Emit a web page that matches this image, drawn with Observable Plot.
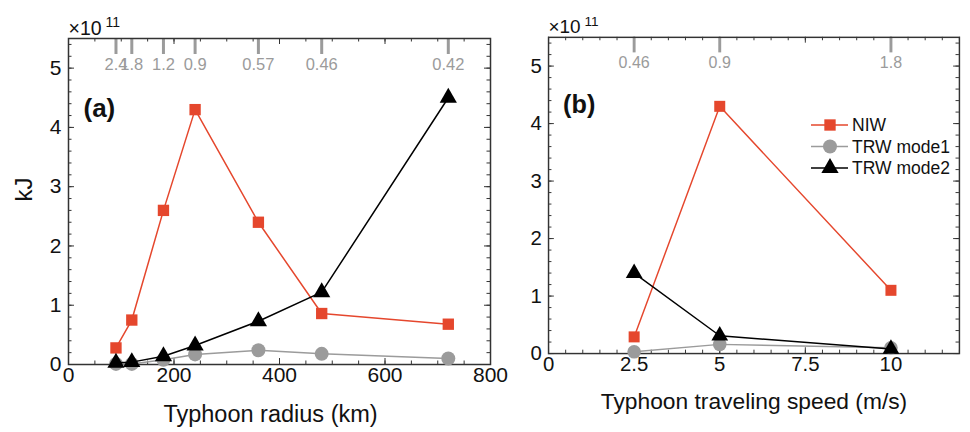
<!DOCTYPE html>
<html>
<head>
<meta charset="utf-8">
<script src="https://cdn.jsdelivr.net/npm/d3@7"></script>
<script src="https://cdn.jsdelivr.net/npm/@observablehq/plot@0.6"></script>
<style>
  html, body { margin: 0; padding: 0; background: #fff; }
  #wrap { position: relative; width: 970px; height: 432px; overflow: hidden; background: #fff;
          font-family: "Liberation Sans", Arial, Helvetica, sans-serif; }
  #pa, #pb, #legend { position: absolute; top: 0; }
  #pa { left: 0; }
  #pb { left: 485px; }
  #legend { left: 800px; top: 110px; }
</style>
</head>
<body>
<div id="wrap">
  <div id="pa"></div>
  <div id="pb"></div>
  <div id="legend"></div>
</div>
<script>
// ---------- data ----------
const radius = [90, 120, 180, 240, 360, 480, 720];
const niwA  = [0.28, 0.75, 2.6, 4.3, 2.4, 0.86, 0.68];
const trw1A = [0.01, 0.01, 0.08, 0.17, 0.24, 0.18, 0.10];
const trw2A = [0.03, 0.04, 0.14, 0.32, 0.73, 1.22, 4.5];

const speed = [2.5, 5, 10];
const niwB  = [0.29, 4.3, 1.1];
const trw1B = [0.03, 0.16, 0.10];
const trw2B = [1.4, 0.31, 0.08];

const topLabelsA = ["2.4", "1.8", "1.2", "0.9", "0.57", "0.46", "0.42"];
const topLabelsB = ["0.46", "0.9", "1.8"];

const seriesNames = ["NIW", "TRW mode1", "TRW mode2"];
const seriesColors = ["#e5472d", "#9b9b9b", "#000000"];
const seriesSymbols = ["square", "circle", "triangle"];
const seriesR = [6.4, 7, 6.4];

const yTicks = [0, 1, 2, 3, 4, 5];
const xTicksA = [0, 200, 400, 600, 800];
const xTicksB = [0, 2.5, 5, 7.5, 10];

const font = '"Liberation Sans", Arial, Helvetica, sans-serif';

function rows(xs, ys) { return xs.map((x, i) => ({x, y: ys[i]})); }

function panel({xs, series, xDomain, xTicks, minorStep, majorStep, topLabels, title, tag,
                marginLeft, marginRight, titleDx, showYLabel}) {
  const width = 500, height = 432, marginTop = 38, marginBottom = 68;
  const fw = width - marginLeft - marginRight;
  const fh = height - marginTop - marginBottom;
  const minorX = d3.range(xDomain[0], xDomain[1] + 1e-9, minorStep);
  const majorX = d3.range(xDomain[0], xDomain[1] + 1e-9, majorStep);
  const minorY = d3.range(0, 5.5 + 1e-9, 0.2);
  const topData = xs.map((x, i) => ({x, label: topLabels[i]}));
  const marks = [
    // inward ticks on all four sides
    Plot.tickX(minorX, {x: d => d, insetTop: fh - 3.5, stroke: "#333"}),
    Plot.tickX(majorX, {x: d => d, insetTop: fh - 6, stroke: "#333"}),
    Plot.tickX(minorX, {x: d => d, insetBottom: fh - 3.5, stroke: "#333"}),
    Plot.tickX(majorX, {x: d => d, insetBottom: fh - 6, stroke: "#333"}),
    Plot.tickY(minorY, {y: d => d, insetRight: fw - 3.5, stroke: "#333"}),
    Plot.tickY(yTicks, {y: d => d, insetRight: fw - 6, stroke: "#333"}),
    Plot.tickY(minorY, {y: d => d, insetLeft: fw - 3.5, stroke: "#333"}),
    Plot.tickY(yTicks, {y: d => d, insetLeft: fw - 6, stroke: "#333"}),
    // gray secondary top ticks and labels
    Plot.tickX(topData, {x: "x", insetBottom: fh - 16, stroke: "#9b9b9b", strokeWidth: 3}),
    Plot.text(topData, {x: "x", text: "label", frameAnchor: "top", dy: 26, fill: "#9b9b9b",
                        fontSize: 16.5, lineAnchor: "middle"}),
    Plot.axisX(xTicks, {anchor: "bottom", tickSize: 0, tickPadding: 3, fontSize: 21, label: null,
                        tickFormat: d => String(d), fill: "#111"}),
    Plot.axisY(yTicks, {anchor: "left", tickSize: 0, tickPadding: 7, fontSize: 21, label: null,
                        tickFormat: d => String(d), fill: "#111"}),
    Plot.frame({stroke: "#333", strokeWidth: 1.5}),
    Plot.text([title], {frameAnchor: "bottom", dy: 50, dx: titleDx, fontSize: 23.5, fill: "#111",
                        lineAnchor: "middle", text: d => d}),
    Plot.text(["\u00d710"], {frameAnchor: "top-left", dy: -4, dx: 0, textAnchor: "start",
                        lineAnchor: "bottom", fontSize: 19.5, fill: "#111", text: d => d}),
    Plot.text(["11"], {frameAnchor: "top-left", dy: -12, dx: 37, textAnchor: "start",
                        lineAnchor: "bottom", fontSize: 14, fill: "#111", text: d => d}),
    Plot.text([tag], {frameAnchor: "top-left", dx: 15, dy: 70, textAnchor: "start",
                        lineAnchor: "middle", fontSize: 26, fontWeight: "bold", fill: "#111", text: d => d})
  ];
  if (showYLabel) {
    marks.push(Plot.text(["kJ"], {frameAnchor: "left", dx: -44, rotate: -90, fontSize: 24,
                        fill: "#111", lineAnchor: "middle", text: d => d}));
  }
  series.forEach((ys, i) => {
    const data = rows(xs, ys);
    marks.push(Plot.line(data, {x: "x", y: "y", stroke: seriesColors[i], strokeWidth: 1.5}));
    marks.push(Plot.dot(data, {x: "x", y: "y", symbol: seriesSymbols[i], r: seriesR[i],
                               fill: seriesColors[i], stroke: "none"}));
  });
  return Plot.plot({
    width, height, marginTop, marginBottom, marginLeft, marginRight,
    style: {fontFamily: font, background: "transparent", overflow: "visible"},
    x: {domain: xDomain, axis: null},
    y: {domain: [0, 5.5], axis: null},
    marks
  });
}

document.getElementById("pa").append(panel({
  xs: radius, series: [niwA, trw1A, trw2A], xDomain: [0, 800], xTicks: xTicksA,
  minorStep: 50, majorStep: 200, topLabels: topLabelsA, title: "Typhoon radius (km)", tag: "(a)",
  marginLeft: 68, marginRight: 10, titleDx: -9, showYLabel: true
}));
document.getElementById("pb").append(panel({
  xs: speed, series: [niwB, trw1B, trw2B], xDomain: [0, 12], xTicks: xTicksB,
  minorStep: 0.5, majorStep: 2.5, topLabels: topLabelsB, title: "Typhoon traveling speed (m/s)", tag: "(b)",
  marginLeft: 65, marginRight: 11.4, titleDx: 0, showYLabel: false
}));

// ---------- legend (inside panel b) ----------
const lg = d3.select("#legend").append("svg").attr("width", 170).attr("height", 80)
  .style("font-family", font);
seriesNames.forEach((name, i) => {
  const cy = 15 + i * 21.5;
  const g = lg.append("g");
  g.append("line").attr("x1", 11).attr("x2", 48).attr("y1", cy).attr("y2", cy)
    .attr("stroke", seriesColors[i]).attr("stroke-width", 1.5);
  const sym = {square: d3.symbolSquare, circle: d3.symbolCircle, triangle: d3.symbolTriangle}[seriesSymbols[i]];
  g.append("path").attr("d", d3.symbol(sym, Math.PI * seriesR[i] * seriesR[i])())
    .attr("transform", `translate(30,${cy})`).attr("fill", seriesColors[i]);
  g.append("text").attr("x", 52).attr("y", cy).attr("dy", "0.35em").attr("font-size", 17.5)
    .attr("fill", "#111").text(name);
});
</script>
</body>
</html>
